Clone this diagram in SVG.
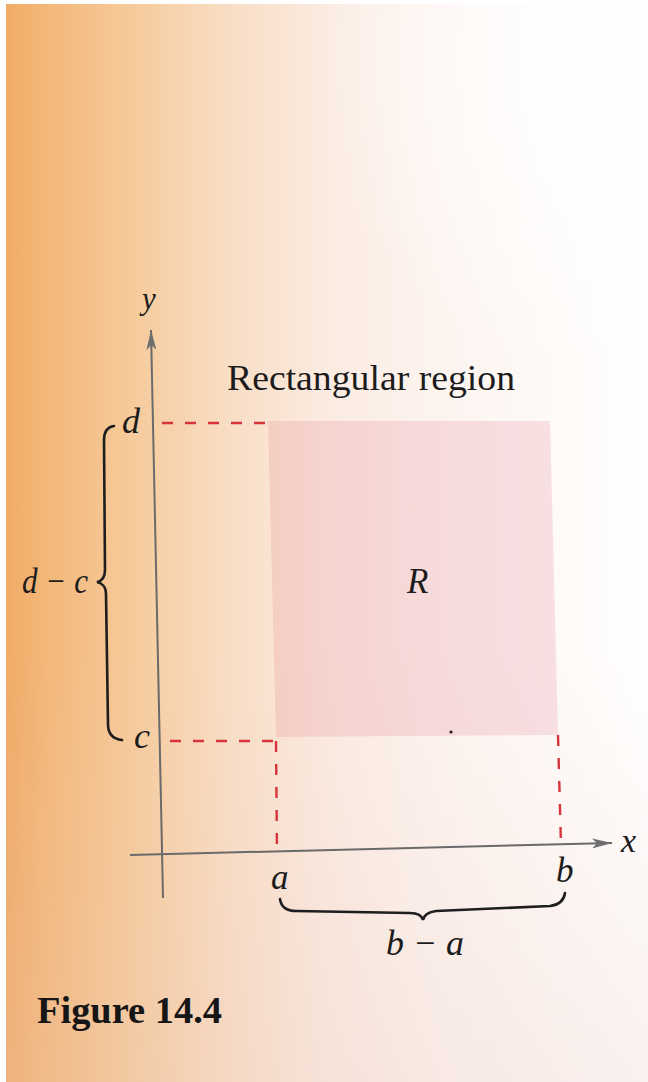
<svg xmlns="http://www.w3.org/2000/svg" width="648" height="1082" viewBox="0 0 648 1082">
  <defs>
    <linearGradient id="page" x1="0" y1="0" x2="1" y2="0">
      <stop offset="0" stop-color="#f1ab66"/>
      <stop offset="0.06" stop-color="#f3b778"/>
      <stop offset="0.2" stop-color="#f6cb9c"/>
      <stop offset="0.35" stop-color="#f9dec6"/>
      <stop offset="0.5" stop-color="#fbebe1"/>
      <stop offset="0.68" stop-color="#fdf4f0"/>
      <stop offset="0.85" stop-color="#fefaf8"/>
      <stop offset="1" stop-color="#ffffff"/>
    </linearGradient>
    <radialGradient id="glare" cx="640" cy="60" r="330" gradientUnits="userSpaceOnUse">
      <stop offset="0" stop-color="#ffffff" stop-opacity="1"/>
      <stop offset="0.5" stop-color="#ffffff" stop-opacity="0.6"/>
      <stop offset="1" stop-color="#ffffff" stop-opacity="0"/>
    </radialGradient>
    <linearGradient id="lowshade" x1="0" y1="0" x2="0" y2="1">
      <stop offset="0" stop-color="#e9c8c0" stop-opacity="0"/>
      <stop offset="0.6" stop-color="#e9c8c0" stop-opacity="0"/>
      <stop offset="1" stop-color="#e9c8c0" stop-opacity="0.25"/>
    </linearGradient>
    <marker id="arrow" viewBox="0 0 20 10" refX="20" refY="5" markerWidth="20" markerHeight="10" markerUnits="userSpaceOnUse" orient="auto">
      <path d="M0,0 L20,5 L0,10 L5,5 Z" fill="#6f6f6f"/>
    </marker>
    <style>
      .axis { stroke:#6a6a6a; stroke-width:2; fill:none; }
      .guide { stroke:#d8343c; stroke-width:2.4; fill:none; stroke-dasharray:11 12; }
      .brace { stroke:#1e1e1e; stroke-width:2.6; fill:none; stroke-linecap:round; }
      .lbl { font-family:"Liberation Serif", "Times New Roman", serif; font-style:italic; fill:#1c1c1c; }
      .title { font-family:"Liberation Serif", "Times New Roman", serif; fill:#1c1c1c; }
      .fig { font-family:"Liberation Serif", "Times New Roman", serif; font-weight:bold; fill:#161616; }
    </style>
  </defs>

  <!-- page background -->
  <rect x="0" y="0" width="648" height="1082" fill="#ffffff"/>
  <rect x="6" y="4" width="642" height="1078" fill="url(#page)"/>
  <rect x="6" y="4" width="642" height="1078" fill="url(#glare)"/>
  <rect x="6" y="4" width="642" height="1078" fill="url(#lowshade)"/>

  <!-- region R -->
  <g id="region-R">
    <polygon points="268,421 550,421 558,735 276,737" fill="#e07a8a" fill-opacity="0.2"/>
    <text class="lbl" x="407" y="593" font-size="35">R</text>
    <circle cx="451" cy="732" r="1.6" fill="#222"/>
  </g>

  <g id="title">
    <text class="title" x="227" y="390" font-size="35" textLength="288" lengthAdjust="spacingAndGlyphs">Rectangular region</text>
  </g>

  <!-- connectors: axes and dashed guides -->
  <g id="connectors">
    <line id="y-axis" class="axis" x1="163" y1="898" x2="151" y2="330" marker-end="url(#arrow)"/>
    <line id="x-axis" class="axis" x1="130" y1="855" x2="612" y2="843" marker-end="url(#arrow)"/>
    <line class="guide" x1="162" y1="423" x2="268" y2="423"/>
    <line class="guide" x1="170" y1="741" x2="276" y2="741"/>
    <line class="guide" x1="276" y1="741" x2="277" y2="855"/>
    <line class="guide" x1="558" y1="735" x2="561" y2="846"/>
  </g>

  <g id="axis-labels">
    <text class="lbl" x="142" y="309" font-size="31">y</text>
    <text class="lbl" x="621" y="852" font-size="34">x</text>
    <text class="lbl" x="122" y="433" font-size="36">d</text>
    <text class="lbl" x="134" y="748" font-size="36">c</text>
    <text class="lbl" x="271" y="889" font-size="35">a</text>
    <text class="lbl" x="556" y="882" font-size="35">b</text>
  </g>

  <g id="brace-height">
    <path class="brace" d="M114,426 C107,427 104,432 104,440 L105,570 C105,577 102,581 97,582 C102,583 106,587 106,594 L108,724 C108,733 112,739 122,740"/>
    <text class="lbl" x="22" y="593" font-size="36" textLength="66" lengthAdjust="spacingAndGlyphs">d − c</text>
  </g>

  <g id="brace-width">
    <path class="brace" d="M280,899 C281,906 286,911 296,911 L410,913 C418,913 422,916 423,920 C424,915 428,912 436,911 L550,906 C559,905 564,900 565,893"/>
    <text class="lbl" x="386" y="955" font-size="35" textLength="78" lengthAdjust="spacingAndGlyphs">b − a</text>
  </g>

  <g id="caption">
    <text class="fig" x="37" y="1023" font-size="38" textLength="185" lengthAdjust="spacingAndGlyphs">Figure 14.4</text>
  </g>
</svg>
